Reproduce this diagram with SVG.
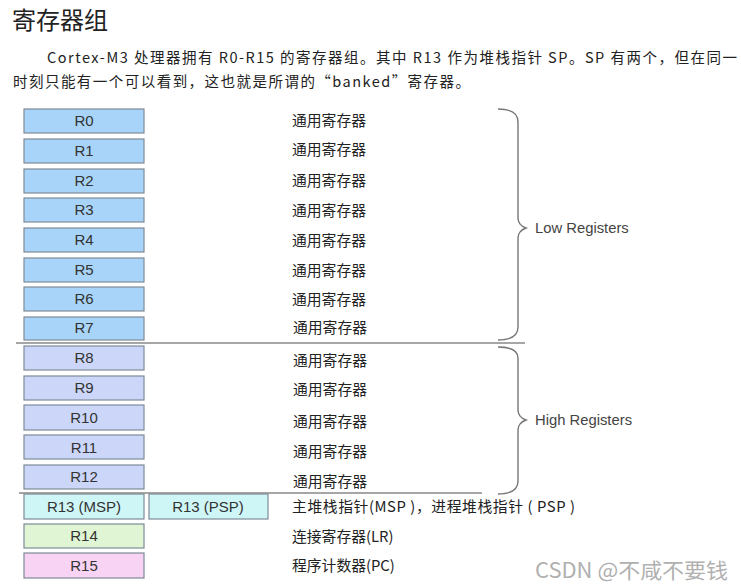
<svg xmlns="http://www.w3.org/2000/svg" width="741" height="586" viewBox="0 0 741 586">
<style>
.bx{stroke:#7d8a98;stroke-width:1.2}
.low{fill:#a7d4f8}
.high{fill:#cbd6f8}
.sp{fill:#cff6f6}
.lr{fill:#e0f5d3}
.pc{fill:#f8d3f3}
.rt{font-family:"Liberation Sans",Arial,sans-serif;font-size:15px;fill:#333;text-anchor:middle}
.lb{font-family:"Noto Sans CJK SC","Noto Sans",sans-serif;font-size:14.8px;fill:#222}
.gl{font-family:"Liberation Sans",Arial,sans-serif;font-size:14.8px;fill:#444}
.br{fill:none;stroke:#777;stroke-width:1.4}
.sep{stroke:#888;stroke-width:1.4}
</style>
<rect width="741" height="586" fill="#fff"/>
<text x="12" y="29" font-family="'Noto Sans CJK SC',sans-serif" font-size="24" fill="#222">寄存器组</text>
<text x="47" y="63" font-family="'Noto Sans CJK SC',sans-serif" font-size="14.5" fill="#222" textLength="690" lengthAdjust="spacing">Cortex-M3 处理器拥有 R0-R15 的寄存器组。其中 R13 作为堆栈指针 SP。SP 有两个，但在同一</text>
<text x="13" y="87" font-family="'Noto Sans CJK SC',sans-serif" font-size="14.5" fill="#222" textLength="457" lengthAdjust="spacing">时刻只能有一个可以看到，这也就是所谓的“banked”寄存器。</text>

<g id="R0"><rect class="bx low" x="24" y="109" width="120" height="24"/><text class="rt" x="84" y="126">R0</text><text class="lb" x="292" y="126">通用寄存器</text></g>
<g id="R1"><rect class="bx low" x="24" y="139" width="120" height="24"/><text class="rt" x="84" y="156">R1</text><text class="lb" x="292" y="155">通用寄存器</text></g>
<g id="R2"><rect class="bx low" x="24" y="169" width="120" height="24"/><text class="rt" x="84" y="186">R2</text><text class="lb" x="292" y="186">通用寄存器</text></g>
<g id="R3"><rect class="bx low" x="24" y="198" width="120" height="24"/><text class="rt" x="84" y="215">R3</text><text class="lb" x="292" y="216">通用寄存器</text></g>
<g id="R4"><rect class="bx low" x="24" y="228" width="120" height="24"/><text class="rt" x="84" y="245">R4</text><text class="lb" x="292" y="246">通用寄存器</text></g>
<g id="R5"><rect class="bx low" x="24" y="258" width="120" height="24"/><text class="rt" x="84" y="275">R5</text><text class="lb" x="292" y="276">通用寄存器</text></g>
<g id="R6"><rect class="bx low" x="24" y="287" width="120" height="24"/><text class="rt" x="84" y="304">R6</text><text class="lb" x="292" y="305">通用寄存器</text></g>
<g id="R7"><rect class="bx low" x="24" y="317" width="120" height="23"/><text class="rt" x="84" y="333">R7</text><text class="lb" x="293" y="333">通用寄存器</text></g>

<g id="R8"><rect class="bx high" x="24" y="346" width="120" height="24"/><text class="rt" x="84" y="363">R8</text><text class="lb" x="293" y="366">通用寄存器</text></g>
<g id="R9"><rect class="bx high" x="24" y="376" width="120" height="24"/><text class="rt" x="84" y="393">R9</text><text class="lb" x="293" y="395">通用寄存器</text></g>
<g id="R10"><rect class="bx high" x="24" y="405" width="120" height="25"/><text class="rt" x="84" y="423">R10</text><text class="lb" x="293" y="427">通用寄存器</text></g>
<g id="R11"><rect class="bx high" x="24" y="435" width="120" height="24"/><text class="rt" x="84" y="453">R11</text><text class="lb" x="293" y="457">通用寄存器</text></g>
<g id="R12"><rect class="bx high" x="24" y="465" width="120" height="24"/><text class="rt" x="84" y="482">R12</text><text class="lb" x="293" y="487">通用寄存器</text></g>

<g id="R13"><rect class="bx sp" x="24" y="494" width="120" height="25"/><text class="rt" x="84" y="512">R13 (MSP)</text><rect class="bx sp" x="149" y="494" width="119" height="25"/><text class="rt" x="208" y="512">R13 (PSP)</text><text class="lb" x="292" y="512" textLength="283" lengthAdjust="spacing">主堆栈指针(MSP )，进程堆栈指针 ( PSP )</text></g>
<g id="R14"><rect class="bx lr" x="24" y="524" width="120" height="24"/><text class="rt" x="84" y="541">R14</text><text class="lb" x="292" y="542">连接寄存器(LR)</text></g>
<g id="R15"><rect class="bx pc" x="24" y="553" width="120" height="25"/><text class="rt" x="84" y="571">R15</text><text class="lb" x="292" y="571">程序计数器(PC)</text></g>

<g id="connectors">
<line class="sep" x1="16" y1="343" x2="525" y2="343"/>
<line class="sep" x1="19" y1="493" x2="482" y2="493"/>
<path class="br" d="M498,109 Q518,109 518,122 L518,218 Q518,225 526,228 Q518,231 518,238 L518,327 Q518,340 498,340"/>
<path class="br" d="M498,347 Q518,347 518,358 L518,410 Q518,417 526,420 Q518,423 518,430 L518,481 Q518,494 498,494"/>
</g>
<g id="low-label"><text class="gl" x="535" y="233">Low Registers</text></g>
<g id="high-label"><text class="gl" x="535" y="425">High Registers</text></g>
<text x="535" y="578" font-family="'Noto Sans CJK SC',sans-serif" font-size="21" fill="#b0b0b0" textLength="193" lengthAdjust="spacingAndGlyphs">CSDN @不咸不要钱</text>
</svg>
